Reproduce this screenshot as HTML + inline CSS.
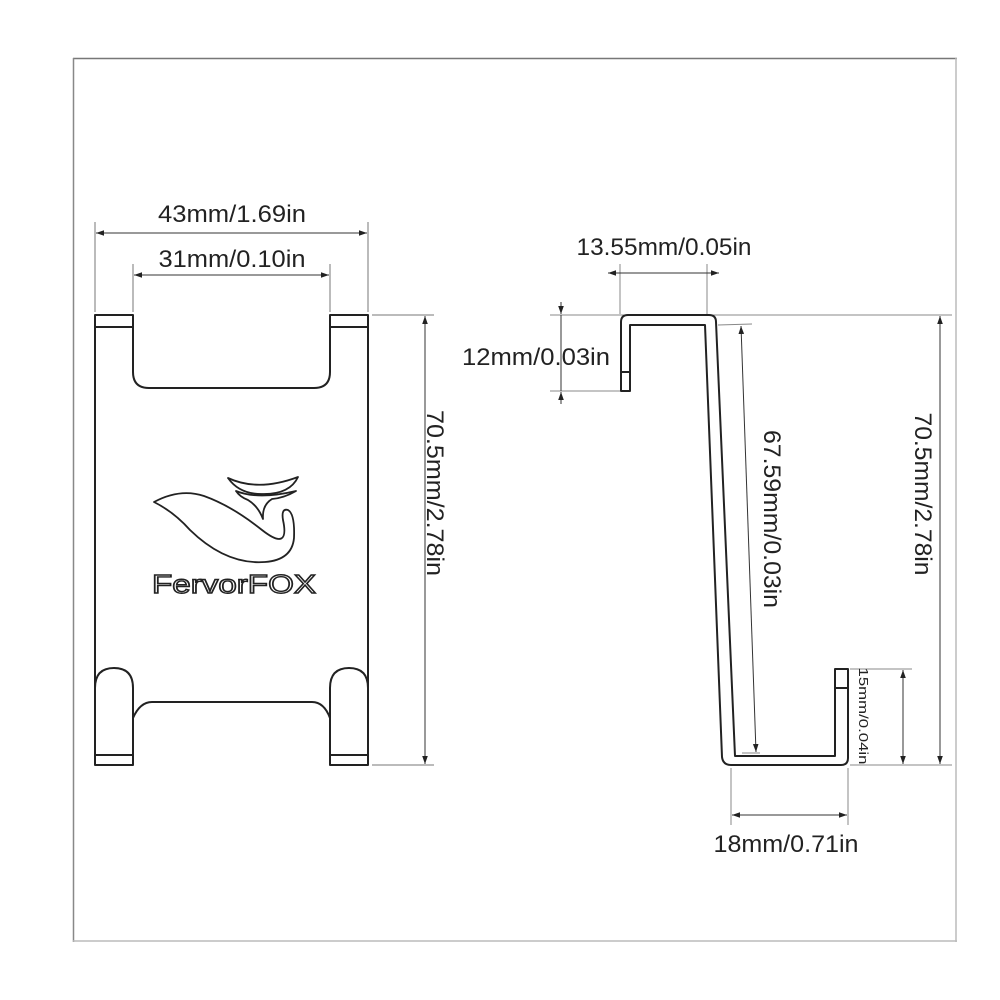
<!DOCTYPE html>
<html><head><meta charset="utf-8"><style>
html,body{margin:0;padding:0;background:#fff;}
svg{display:block;}
text{font-family:"Liberation Sans",Arial,sans-serif;fill:#222;}
</style></head><body>
<svg width="1000" height="1000" viewBox="0 0 1000 1000" xmlns="http://www.w3.org/2000/svg">
<defs>
<marker id="a" viewBox="0 0 10 10" refX="10" refY="5" markerWidth="8" markerHeight="8" orient="auto-start-reverse" markerUnits="userSpaceOnUse"><path d="M0,1.5 L10,5 L0,8.5 z" fill="#222"/></marker>
</defs>
<!-- frame -->
<line x1="73" y1="58.5" x2="957" y2="58.5" stroke="#777" stroke-width="1.5"/>
<line x1="73.5" y1="58" x2="73.5" y2="942" stroke="#888" stroke-width="1.5"/>
<line x1="956" y1="58" x2="956" y2="942" stroke="#bbb" stroke-width="1.5"/>
<line x1="73" y1="941" x2="957" y2="941" stroke="#bbb" stroke-width="1.5"/>

<!-- LEFT VIEW dims -->
<g stroke="#777" stroke-width="1" fill="none">
<line x1="95" y1="222" x2="95" y2="312"/>
<line x1="368" y1="222" x2="368" y2="312"/>
<line x1="133" y1="264" x2="133" y2="312"/>
<line x1="330" y1="264" x2="330" y2="312"/>
<line x1="372" y1="315" x2="434" y2="315"/>
<line x1="372" y1="765" x2="434" y2="765"/>
</g>
<g stroke="#333" stroke-width="1">
<line x1="96" y1="233" x2="367" y2="233" marker-start="url(#a)" marker-end="url(#a)"/>
<line x1="134" y1="275" x2="329" y2="275" marker-start="url(#a)" marker-end="url(#a)"/>
<line x1="425" y1="316" x2="425" y2="764" marker-start="url(#a)" marker-end="url(#a)"/>
</g>
<text x="232" y="222" font-size="24" text-anchor="middle" textLength="148" lengthAdjust="spacingAndGlyphs">43mm/1.69in</text>
<text x="232" y="267" font-size="24" text-anchor="middle" textLength="147" lengthAdjust="spacingAndGlyphs">31mm/0.10in</text>
<text transform="translate(427,493) rotate(90)" font-size="24" text-anchor="middle" textLength="166" lengthAdjust="spacingAndGlyphs">70.5mm/2.78in</text>

<!-- plate -->
<g stroke="#222" stroke-width="2" fill="none" stroke-linejoin="round">
<path d="M95,765 L95,315 L133,315 L133,372 Q133,388 149,388 L314,388 Q330,388 330,372 L330,315 L368,315 L368,765"/>
<line x1="95" y1="327" x2="133" y2="327"/>
<line x1="330" y1="327" x2="368" y2="327"/>
<path d="M95,765 L95,688 Q95,668 114,668 Q133,668 133,688 L133,765 Z"/>
<path d="M330,765 L330,688 Q330,668 349,668 Q368,668 368,688 L368,765 Z"/>
<line x1="95" y1="755" x2="133" y2="755"/>
<line x1="330" y1="755" x2="368" y2="755"/>
<path d="M133,718 Q140,702 152,702 L312,702 Q324,702 330,718"/>
<g stroke-width="1.8">
<path d="M154,502 Q180,488 204,496 Q232,506 262,530 Q290,552 283,520 Q281,508 288,510 Q295,514 294,538 Q292,560 265,562 Q226,565 190,530 Q174,512 154,502 Z"/>
<path d="M228,478 Q258,492 298,477 Q290,494 264,494 Q240,495 228,478 Z"/>
<path d="M236,491 Q258,500 296,491 Q284,498 272,499 Q262,505 263,519 Q258,506 248,500 Q240,497 236,491 Z"/>
</g>
</g>
<text x="234" y="593" font-size="26" text-anchor="middle" textLength="164" lengthAdjust="spacingAndGlyphs" style="fill:#fff;stroke:#222;stroke-width:1.4;">FervorFOX</text>

<!-- RIGHT VIEW -->
<g stroke="#888" stroke-width="1" fill="none">
<line x1="620" y1="264" x2="620" y2="314"/>
<line x1="707" y1="264" x2="707" y2="314"/>
<line x1="550" y1="315" x2="952" y2="315"/>
<line x1="550" y1="391" x2="620" y2="391"/>
<line x1="718" y1="325" x2="752" y2="324"/>
<line x1="742" y1="753" x2="760" y2="753"/>
<line x1="850" y1="669" x2="912" y2="669"/>
<line x1="850" y1="765" x2="952" y2="765"/>
<line x1="731" y1="768" x2="731" y2="825"/>
<line x1="848" y1="768" x2="848" y2="825"/>
</g>
<g stroke="#333" stroke-width="1">
<line x1="608" y1="273" x2="620" y2="273" marker-start="url(#a)" />
<line x1="620" y1="273" x2="707" y2="273"/>
<line x1="719" y1="273" x2="707" y2="273" marker-start="url(#a)"/>
<line x1="561" y1="302" x2="561" y2="314" marker-end="url(#a)"/>
<line x1="561" y1="315" x2="561" y2="391"/>
<line x1="561" y1="404" x2="561" y2="392" marker-end="url(#a)"/>
<line x1="741" y1="326" x2="756" y2="752" marker-start="url(#a)" marker-end="url(#a)"/>
<line x1="940" y1="316" x2="940" y2="764" marker-start="url(#a)" marker-end="url(#a)"/>
<line x1="903" y1="670" x2="903" y2="764" marker-start="url(#a)" marker-end="url(#a)"/>
<line x1="732" y1="815" x2="847" y2="815" marker-start="url(#a)" marker-end="url(#a)"/>
</g>
<g stroke="#222" stroke-width="2" fill="none" stroke-linejoin="round">
<path d="M621,391 L621,322 Q621,315 628,315 L709,315 Q716,315 716,322 L735,756 L835,756 L835,669 L848,669 L848,758 Q848,765 841,765 L731,765 Q723,765 722,757 L705,325 L630,325 L630,391 Z"/>
<line x1="621" y1="372" x2="630" y2="372"/>
<line x1="835" y1="688" x2="848" y2="688"/>
</g>
<text x="664" y="255" font-size="24" text-anchor="middle" textLength="175" lengthAdjust="spacingAndGlyphs">13.55mm/0.05in</text>
<text x="610" y="365" font-size="24" text-anchor="end" textLength="148" lengthAdjust="spacingAndGlyphs">12mm/0.03in</text>
<text transform="translate(764,519) rotate(90)" font-size="24" text-anchor="middle" textLength="178" lengthAdjust="spacingAndGlyphs">67.59mm/0.03in</text>
<text transform="translate(915,494) rotate(90)" font-size="24" text-anchor="middle" textLength="163" lengthAdjust="spacingAndGlyphs">70.5mm/2.78in</text>
<text transform="translate(859,716) rotate(90)" font-size="13" text-anchor="middle" textLength="97" lengthAdjust="spacingAndGlyphs">15mm/0.04in</text>
<text x="786" y="852" font-size="24" text-anchor="middle" textLength="145" lengthAdjust="spacingAndGlyphs">18mm/0.71in</text>
</svg>
</body></html>
